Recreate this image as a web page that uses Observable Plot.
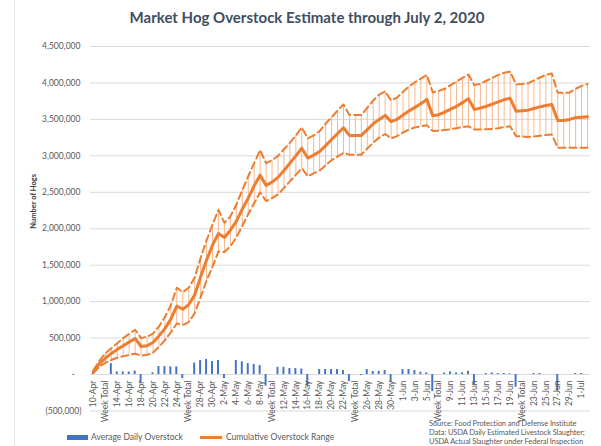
<!DOCTYPE html>
<html><head><meta charset="utf-8">
<script src="https://cdn.jsdelivr.net/npm/d3@7"></script>
<script src="https://cdn.jsdelivr.net/npm/@observablehq/plot@0.6"></script>
<style>
body{margin:0;background:#fff;font-family:Lato,sans-serif;}
#wrap{position:relative;width:601px;height:446px;overflow:hidden;background:#fff;}
#frameline{position:absolute;left:14px;top:0;width:1px;height:446px;background:#e6e6e6;}
#title{position:absolute;left:0;width:614px;top:8px;text-align:center;font-weight:bold;font-size:15px;color:#404e60;white-space:nowrap;}
#chart{position:absolute;left:0;top:0;}
.leg{position:absolute;font-size:8.5px;color:#595959;white-space:nowrap;line-height:10px;}
.sw{position:absolute;}
#source{position:absolute;left:429px;top:420px;font-size:7.5px;letter-spacing:-0.1px;color:#595959;line-height:8.8px;white-space:nowrap;}
</style></head><body>
<div id="wrap">
<div id="frameline"></div>
<div id="chart"></div>
<div id="title">Market Hog Overstock Estimate through July 2, 2020</div>
<div class="sw" style="left:67px;top:435px;width:21px;height:5px;background:#4472c4"></div>
<div class="leg" style="left:91px;top:432px">Average Daily Overstock</div>
<div class="sw" style="left:200px;top:436px;width:22px;height:3px;background:#ed7d31"></div>
<div class="leg" style="left:226px;top:432px">Cumulative Overstock Range</div>
<div id="source">Source: Food Protection and Defense Institute<br>Data: USDA Daily Estimated Livestock Slaughter;<br>USDA Actual Slaughter under Federal Inspection</div>
</div>
<script>
const categories = ["10-Apr","11-Apr","Week Total","13-Apr","14-Apr","15-Apr","16-Apr","17-Apr","18-Apr","19-Apr","20-Apr","21-Apr","22-Apr","23-Apr","24-Apr","25-Apr","Week Total","27-Apr","28-Apr","29-Apr","30-Apr","1-May","2-May","3-May","4-May","5-May","6-May","7-May","8-May","9-May","Week Total","11-May","12-May","13-May","14-May","15-May","16-May","17-May","18-May","19-May","20-May","21-May","22-May","23-May","Week Total","25-May","26-May","27-May","28-May","29-May","30-May","31-May","1-Jun","2-Jun","3-Jun","4-Jun","5-Jun","6-Jun","Week Total","8-Jun","9-Jun","10-Jun","11-Jun","12-Jun","13-Jun","14-Jun","15-Jun","16-Jun","17-Jun","18-Jun","19-Jun","20-Jun","Week Total","22-Jun","23-Jun","24-Jun","25-Jun","26-Jun","27-Jun","28-Jun","29-Jun","30-Jun","1-Jul","2-Jul"];

// Cumulative overstock (thousands of hogs)
const cumulativeK = [40,150,225,290,345,395,445,495,385,395,
  440,530,630,760,940,895,960,1090,1340,1570,
  1775,1935,1880,1980,2100,2270,2420,2590,2735,2595,
  2640,2705,2800,2900,3000,3105,2970,3010,3060,3140,
  3225,3305,3385,3280,3280,3280,3360,3440,3500,3555,
  3470,3500,3560,3615,3665,3715,3775,3550,3565,3600,
  3640,3680,3730,3785,3636,3655,3680,3710,3740,3770,
  3790,3613,3618,3627,3650,3672,3690,3705,3485,3485,
  3500,3525,3530,3535];
// Upper bound of range (thousands)
const upperK = [60,190,290,360,430,500,560,615,500,520,
  560,660,790,950,1190,1130,1190,1330,1600,1840,
  2060,2260,2080,2170,2330,2530,2720,2900,3080,2900,
  2940,3000,3090,3180,3280,3390,3240,3280,3340,3440,
  3530,3620,3705,3560,3560,3560,3660,3760,3840,3885,
  3760,3800,3880,3950,4010,4060,4110,3870,3890,3920,
  3970,4020,4070,4115,3970,3990,4030,4070,4110,4140,
  4155,3980,3985,3995,4035,4075,4110,4130,3865,3865,
  3870,3920,3960,3985];
// Lower bound of range (thousands)
const lowerK = [20,110,160,200,230,250,270,285,260,270,
  300,380,470,580,700,680,720,840,1060,1290,
  1480,1690,1680,1760,1880,2040,2200,2350,2500,2380,
  2420,2470,2560,2650,2740,2830,2720,2760,2800,2870,
  2940,2990,3040,3016,3016,3016,3100,3180,3250,3300,
  3240,3270,3320,3360,3390,3405,3420,3340,3345,3355,
  3365,3380,3395,3405,3360,3360,3365,3370,3380,3395,
  3405,3270,3265,3260,3265,3275,3285,3292,3110,3110,
  3110,3110,3110,3110];
// Average daily overstock (thousands)
const dailyK = [30,0,0,150,35,35,35,48,-115,0,
  25,110,110,105,105,-55,0,158,192,206,
  178,192,-55,0,192,174,150,137,124,-160,
  0,100,100,82,82,75,-150,0,69,69,
  69,69,55,-96,0,-14,69,41,45,55,
  -110,0,69,69,55,32,23,-234,0,23,
  37,23,23,45,-137,0,14,23,14,14,
  10,-174,0,0,14,14,0,0,-229,0,
  0,14,14,0];
const yTickValues = [-500000,0,500000,1000000,1500000,2000000,2500000,3000000,3500000,4000000,4500000];

const idx = d3.range(categories.length);
const rows = idx.map(i => ({i, c: cumulativeK[i]*1000, u: upperK[i]*1000, l: lowerK[i]*1000, b: dailyK[i]*1000}));
const num = d3.format(",");
const fmt = v => v === 0 ? "-\u00a0\u00a0\u00a0" : v < 0 ? "(" + num(-v) + ")" : num(v) + "\u2009";

const chart = Plot.plot({
  width: 601, height: 446,
  marginTop: 46, marginBottom: 35.5, marginLeft: 90, marginRight: 11,
  style: {fontFamily: "Lato, sans-serif", overflow: "visible", background: "transparent"},
  x: {type: "band", domain: idx, padding: 0, axis: null},
  y: {domain: [-500000, 4500000]},
  marks: [
    Plot.gridY(yTickValues, {stroke: "#d9d9d9", strokeOpacity: 1, strokeWidth: 1}),
    Plot.axisY(yTickValues, {tickSize: 0, tickPadding: 9, tickFormat: fmt, fontSize: 8.5, fill: "#595959", label: null}),
    Plot.text(["Number of Hogs"], {frameAnchor: "left", rotate: -90, dx: -57, fontSize: 7.5, fontWeight: "bold", fill: "#404040"}),
    Plot.barY(rows.filter(d => d.b !== 0), {x: "i", y: "b", fill: "#4472c4", insetLeft: 2, insetRight: 2}),
    Plot.ruleX(rows, {x: "i", y1: "l", y2: "u", stroke: "#f6b88e", strokeWidth: 1}),
    Plot.line(rows, {x: "i", y: "u", stroke: "#ed7d31", strokeWidth: 2, strokeDasharray: "7,4"}),
    Plot.line(rows, {x: "i", y: "l", stroke: "#ed7d31", strokeWidth: 2, strokeDasharray: "7,4"}),
    Plot.line(rows, {x: "i", y: "c", stroke: "#ed7d31", strokeWidth: 3}),
    Plot.text(idx.filter(i => i % 2 === 0), {x: d => d, y: d => 0, text: d => categories[d], rotate: -90, textAnchor: "end", lineAnchor: "middle", dy: 6, fontSize: 8.5, fill: "#595959"})
  ]
});
document.getElementById("chart").appendChild(chart);
</script>
</body></html>
